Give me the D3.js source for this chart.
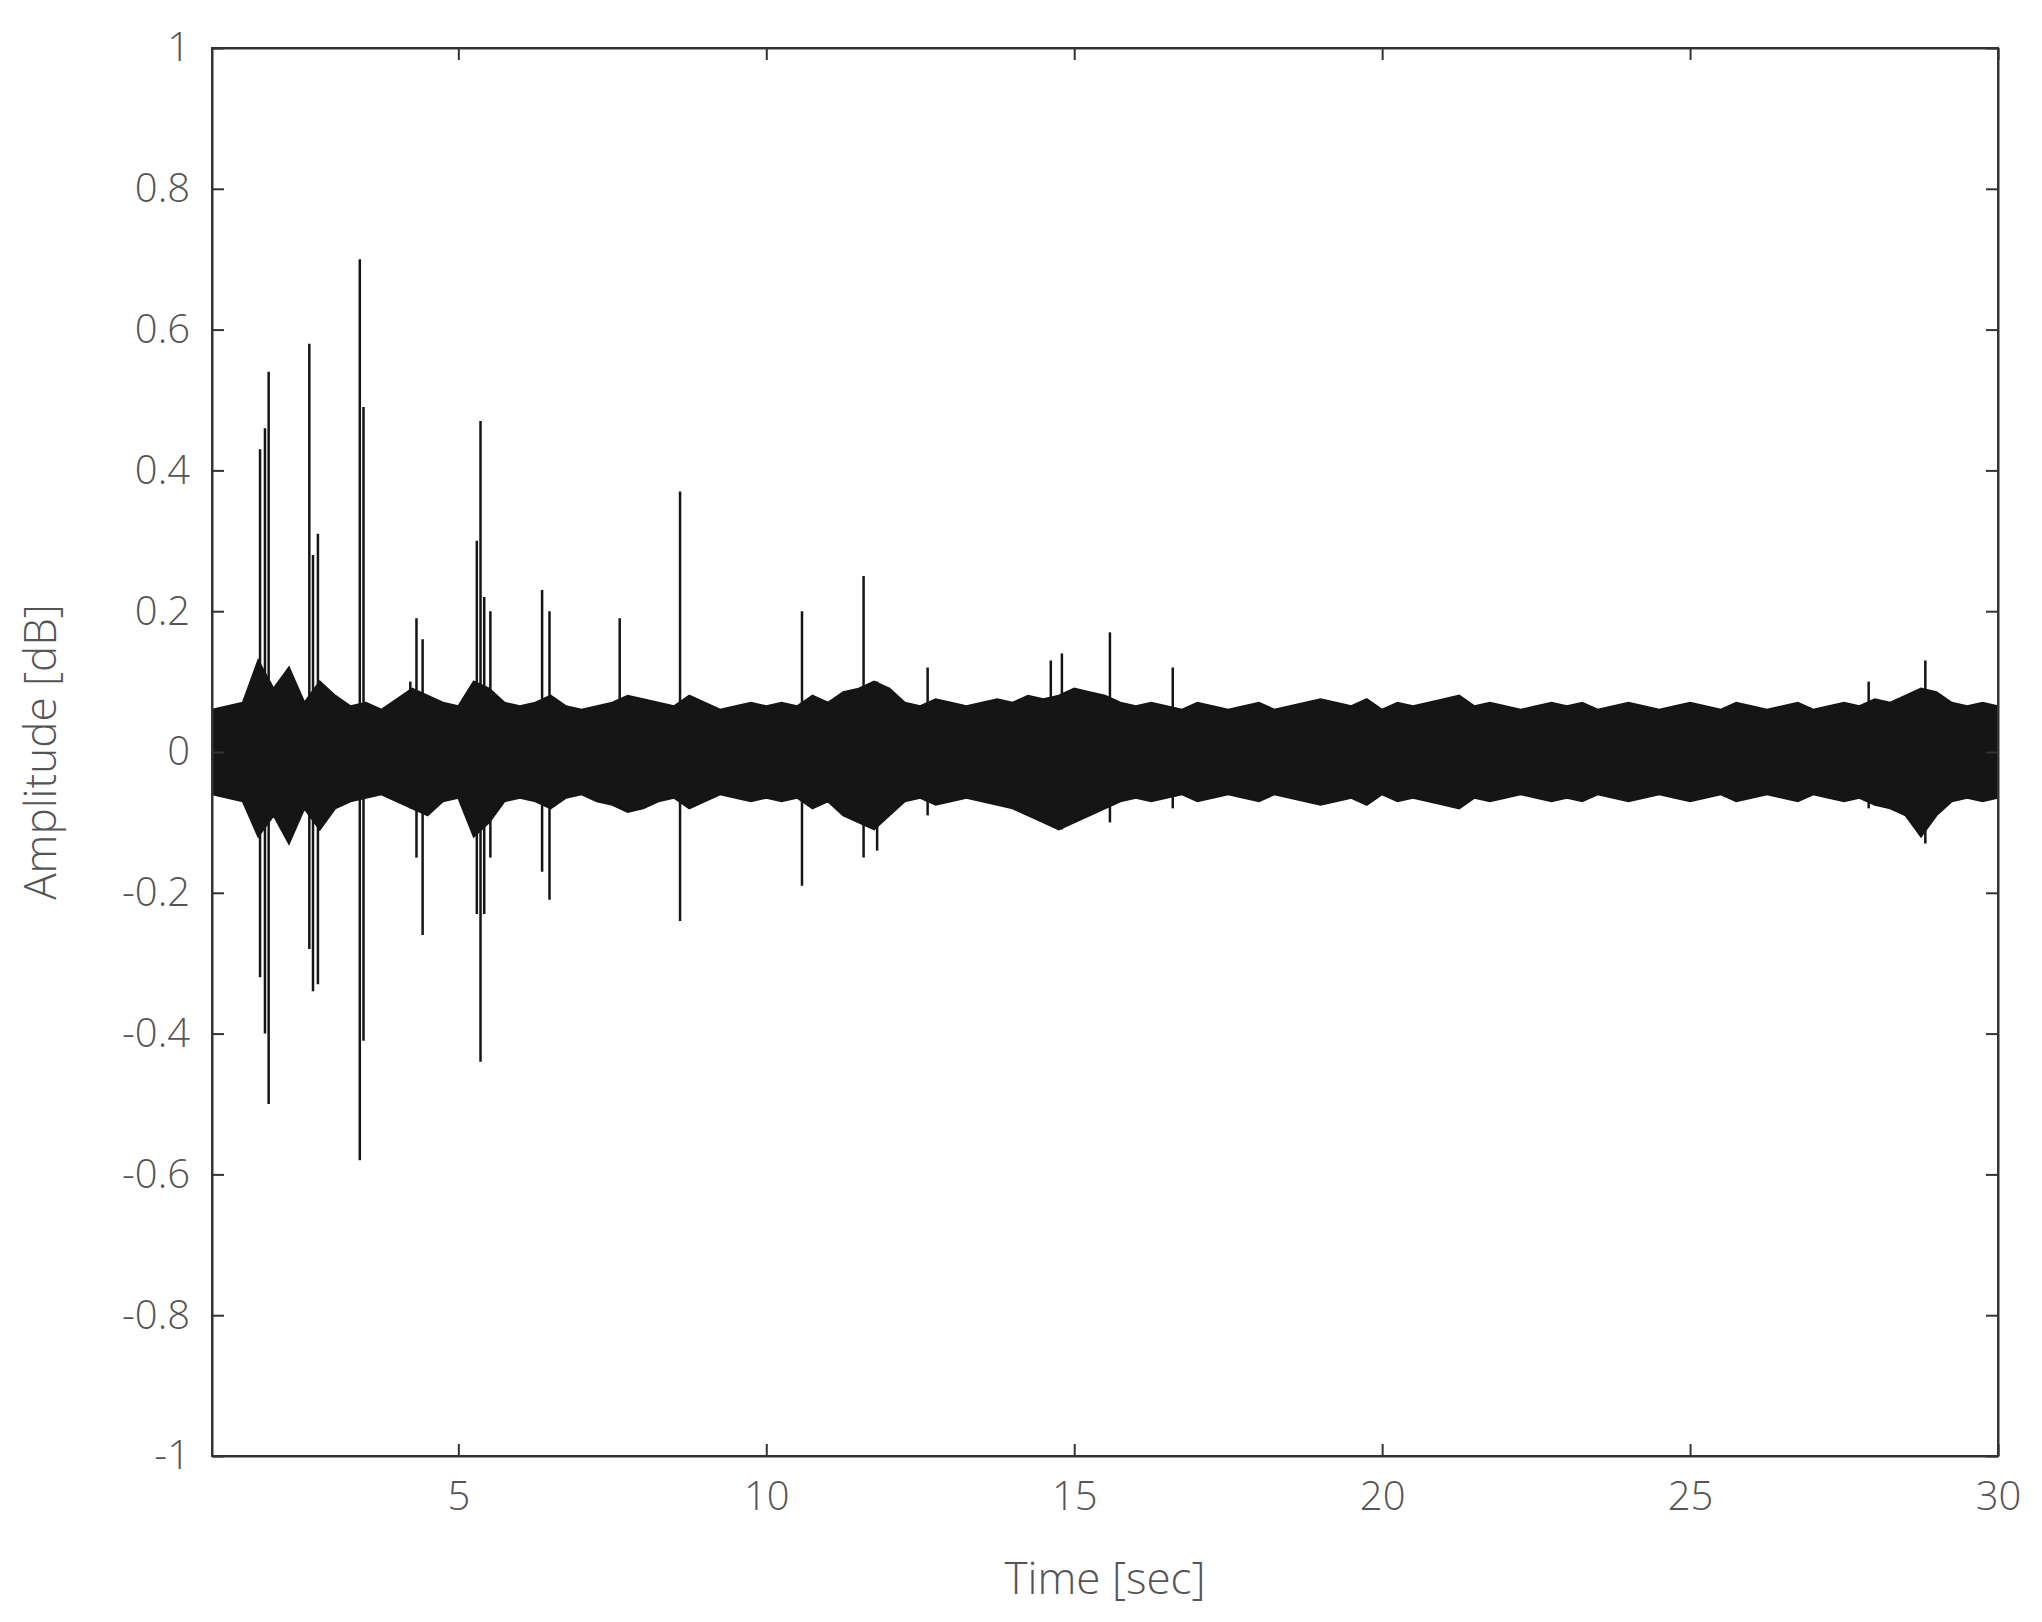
<!DOCTYPE html>
<html><head><meta charset="utf-8">
<script src="https://cdn.jsdelivr.net/npm/d3@7"></script>
<style>body{margin:0;background:#fff}text{font-family:"Open Sans",sans-serif;font-weight:300;fill:#555}</style>
</head><body><svg id="c" width="2042" height="1622"></svg>
<script>
const bandStart = 1.0, bandStep = 0.25;
const bandTop = [0.06,0.065,0.07,0.13,0.09,0.12,0.07,0.10,0.08,0.065,0.07,0.06,0.075,
0.09,0.08,0.07,0.065,0.10,0.09,0.07,0.065,0.07,0.08,0.065,0.06,
0.065,0.07,0.08,0.075,0.07,0.065,0.08,0.07,0.06,0.065,0.07,0.065,
0.07,0.065,0.08,0.07,0.085,0.09,0.10,0.09,0.07,0.065,0.075,0.07,
0.065,0.07,0.075,0.07,0.08,0.075,0.08,0.09,0.085,0.08,0.07,0.065,
0.07,0.065,0.06,0.07,0.065,0.06,0.065,0.07,0.06,0.065,0.07,0.075,
0.07,0.065,0.075,0.06,0.07,0.065,0.07,0.075,0.08,0.065,0.07,0.065,
0.06,0.065,0.07,0.065,0.07,0.06,0.065,0.07,0.065,0.06,0.065,0.07,
0.065,0.06,0.07,0.065,0.06,0.065,0.07,0.06,0.065,0.07,0.065,0.075,
0.07,0.08,0.09,0.085,0.07,0.065,0.07,0.065];
const bandBottom = [-0.06,-0.065,-0.07,-0.12,-0.09,-0.13,-0.08,-0.11,-0.08,-0.07,-0.065,-0.06,-0.07,
-0.08,-0.09,-0.07,-0.065,-0.12,-0.10,-0.07,-0.065,-0.07,-0.08,-0.065,-0.06,
-0.07,-0.075,-0.085,-0.08,-0.07,-0.065,-0.08,-0.07,-0.06,-0.065,-0.07,-0.065,
-0.07,-0.065,-0.08,-0.07,-0.09,-0.10,-0.11,-0.09,-0.07,-0.065,-0.075,-0.07,
-0.065,-0.07,-0.075,-0.08,-0.09,-0.10,-0.11,-0.10,-0.09,-0.08,-0.07,-0.065,
-0.07,-0.065,-0.06,-0.07,-0.065,-0.06,-0.065,-0.07,-0.06,-0.065,-0.07,-0.075,
-0.07,-0.065,-0.075,-0.06,-0.07,-0.065,-0.07,-0.075,-0.08,-0.065,-0.07,-0.065,
-0.06,-0.065,-0.07,-0.065,-0.07,-0.06,-0.065,-0.07,-0.065,-0.06,-0.065,-0.07,
-0.065,-0.06,-0.07,-0.065,-0.06,-0.065,-0.07,-0.06,-0.065,-0.07,-0.065,-0.075,
-0.08,-0.09,-0.12,-0.09,-0.07,-0.065,-0.07,-0.065];
const spikeTime = [1.78,1.86,1.92,2.58,2.64,2.72,3.40,3.46,4.22,4.32,4.42,5.30,5.36,5.42,5.52,6.36,6.48,7.62,8.60,10.58,11.58,11.80,12.62,14.62,14.80,15.58,16.60,27.90,28.82];
const spikeMax  = [0.43,0.46,0.54,0.58,0.28,0.31,0.70,0.49,0.10,0.19,0.16,0.30,0.47,0.22,0.20,0.23,0.20,0.19,0.37,0.20,0.25,0.10,0.12,0.13,0.14,0.17,0.12,0.10,0.13];
const spikeMin  = [-0.32,-0.40,-0.50,-0.28,-0.34,-0.33,-0.58,-0.41,-0.08,-0.15,-0.26,-0.23,-0.44,-0.23,-0.15,-0.17,-0.21,-0.08,-0.24,-0.19,-0.15,-0.14,-0.09,-0.10,-0.11,-0.10,-0.08,-0.08,-0.13];
const xTicks = [5,10,15,20,25,30];
const yTicks = [-1,-0.8,-0.6,-0.4,-0.2,0,0.2,0.4,0.6,0.8,1];
const yTickLabels = ["-1","-0.8","-0.6","-0.4","-0.2","0","0.2","0.4","0.6","0.8","1"];

const L=212,R=1998,T=48,B=1456;
const svg=d3.select("#c");
const x=d3.scaleLinear().domain([1,30]).range([L,R]);
const y=d3.scaleLinear().domain([-1,1]).range([B,T]);
const band=bandTop.map((v,i)=>({t:bandStart+i*bandStep,top:v,bot:bandBottom[i]}));
svg.append("path").datum(band).attr("fill","#151515").attr("stroke","#151515").attr("stroke-width",2)
 .attr("d",d3.area().x(d=>x(d.t)).y0(d=>y(d.bot)).y1(d=>y(d.top)));
svg.selectAll("line.sp").data(spikeTime).join("line").attr("class","sp")
 .attr("x1",d=>x(d)).attr("x2",d=>x(d)).attr("y1",(d,i)=>y(spikeMin[i])).attr("y2",(d,i)=>y(spikeMax[i]))
 .attr("stroke","#151515").attr("stroke-width",2.5);
const tk=12;
const gx=svg.append("g").attr("transform",`translate(0,${B})`).call(d3.axisBottom(x).tickValues(xTicks).tickSizeInner(-tk).tickSizeOuter(0).tickPadding(26));
const gxt=svg.append("g").attr("transform",`translate(0,${T})`).call(d3.axisTop(x).tickValues(xTicks).tickSizeInner(-tk).tickSizeOuter(0).tickFormat(""));
const gy=svg.append("g").attr("transform",`translate(${L},0)`).call(d3.axisLeft(y).tickValues(yTicks).tickFormat((d,i)=>yTickLabels[i]).tickSizeInner(-tk).tickSizeOuter(0).tickPadding(22));
const gyr=svg.append("g").attr("transform",`translate(${R},0)`).call(d3.axisRight(y).tickValues(yTicks).tickSizeInner(-tk).tickSizeOuter(0).tickFormat(""));
[gx,gxt,gy,gyr].forEach(g=>{g.selectAll("path").attr("stroke","#333").attr("stroke-width",2);g.selectAll("line").attr("stroke","#333").attr("stroke-width",2);g.selectAll("text").attr("font-size",40).style("font-family","'Open Sans',sans-serif").style("font-weight",300).attr("fill","#555");});
svg.append("rect").attr("x",L).attr("y",T).attr("width",R-L).attr("height",B-T).attr("fill","none").attr("stroke","#333").attr("stroke-width",2);
svg.append("text").attr("x",(L+R)/2).attr("y",1594).attr("text-anchor","middle").attr("font-size",44).text("Time [sec]");
svg.append("text").attr("transform",`translate(56,${(T+B)/2}) rotate(-90)`).attr("text-anchor","middle").attr("font-size",44).text("Amplitude [dB]");
</script></body></html>
